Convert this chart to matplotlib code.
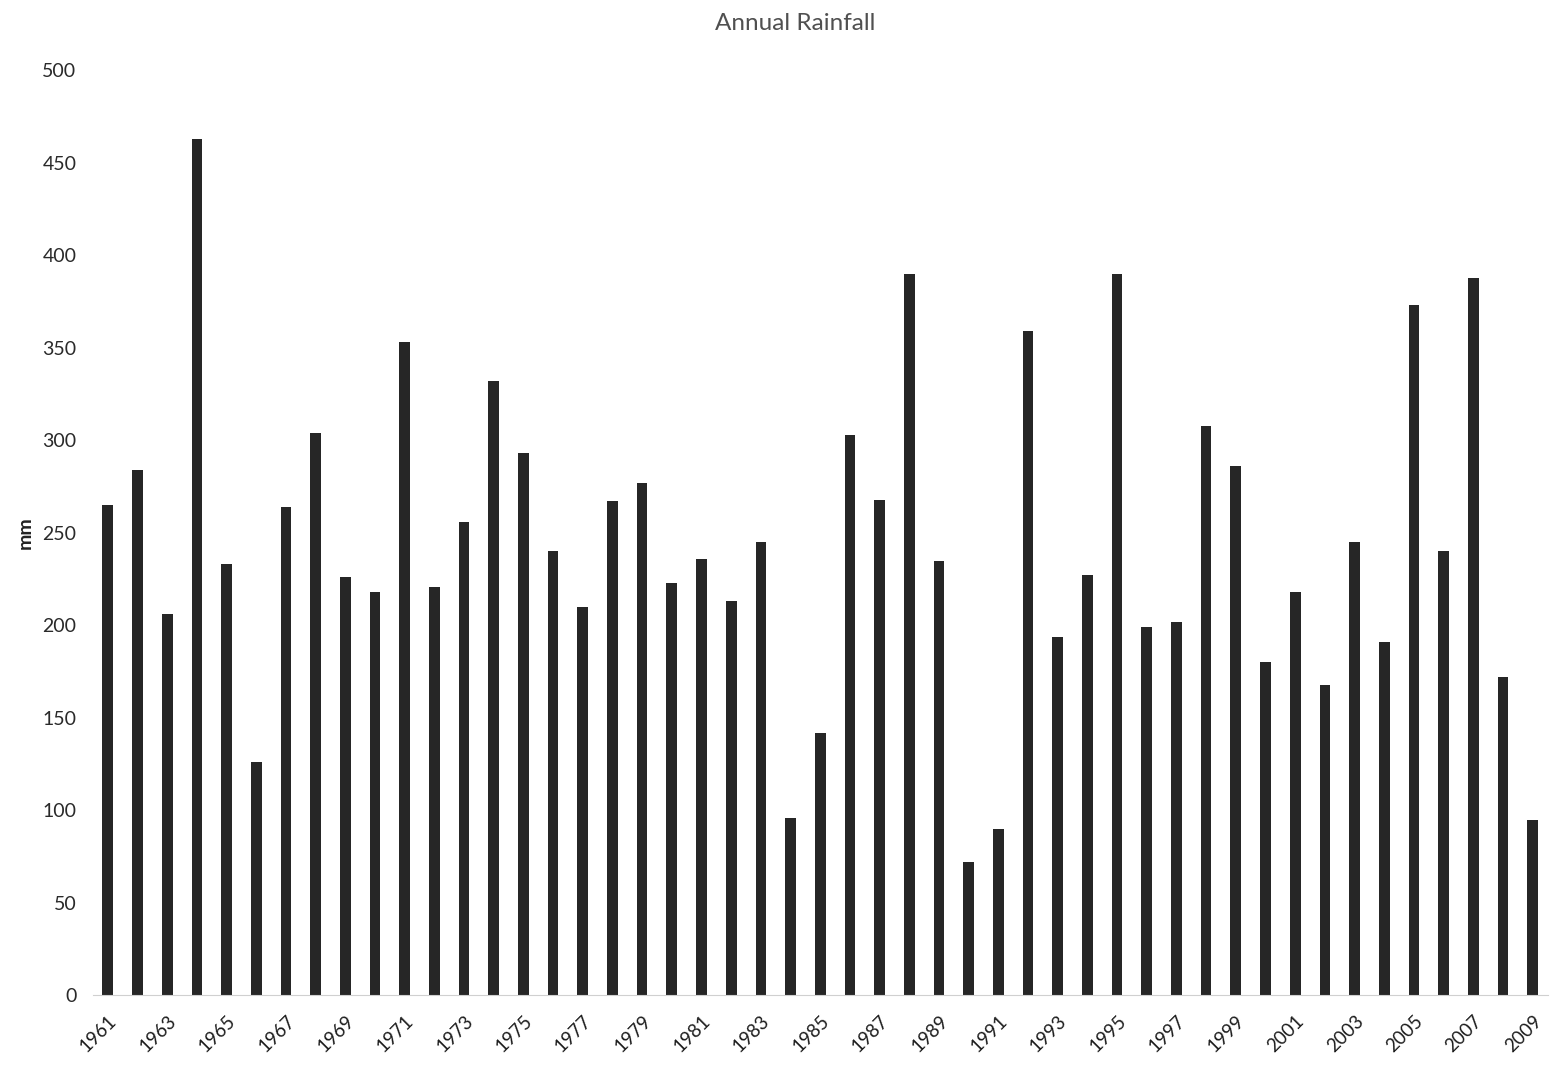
import matplotlib
matplotlib.use("Agg")
import matplotlib.pyplot as plt
import numpy as np

years = list(range(1961, 2010))
rainfall_mm = [265, 284, 206, 463, 233, 126, 264, 304, 226, 218,
               353, 221, 256, 332, 293, 240, 210, 267, 277, 223,
               236, 213, 245, 96, 142, 303, 268, 390, 235, 72,
               90, 359, 194, 227, 390, 199, 202, 308, 286, 180,
               218, 168, 245, 191, 373, 240, 388, 172, 95]
y_ticks = [0, 50, 100, 150, 200, 250, 300, 350, 400, 450, 500]

plt.rcParams['font.family'] = ['Lato', 'DejaVu Sans']

fig = plt.figure(figsize=(15.6, 10.68), dpi=100)
ax = fig.add_axes([0.0596, 0.068, 0.9324, 0.866])

x_location = np.arange(len(years))
ax.bar(x_location, rainfall_mm, 0.36, color="#262626")

ax.set_xlim(-0.5, len(years) - 0.5)
ax.set_ylim(0, 500)
ax.set_yticks(y_ticks)
ax.set_yticklabels([str(t) for t in y_ticks], fontsize=14, color="#2a2a2a")
ax.set_xticks(x_location[::2])
ax.set_xticklabels([str(y) for y in years[::2]], rotation=45, ha="right",
                   rotation_mode="anchor", fontsize=13.5, color="#1e1e1e")
ax.tick_params(axis="y", length=0, pad=12)
ax.tick_params(axis="x", length=0, pad=12)

for side in ["top", "right", "left"]:
    ax.spines[side].set_visible(False)
ax.spines["bottom"].set_color("#d0d0d0")
ax.spines["bottom"].set_linewidth(0.8)

ax.set_ylabel("mm", fontsize=14, fontweight="bold", color="#222222", labelpad=6)
fig.suptitle("Annual Rainfall", x=0.51, y=0.988, fontsize=17.5, color="#505050")

fig.savefig("out.png", dpi=100, facecolor="white")
